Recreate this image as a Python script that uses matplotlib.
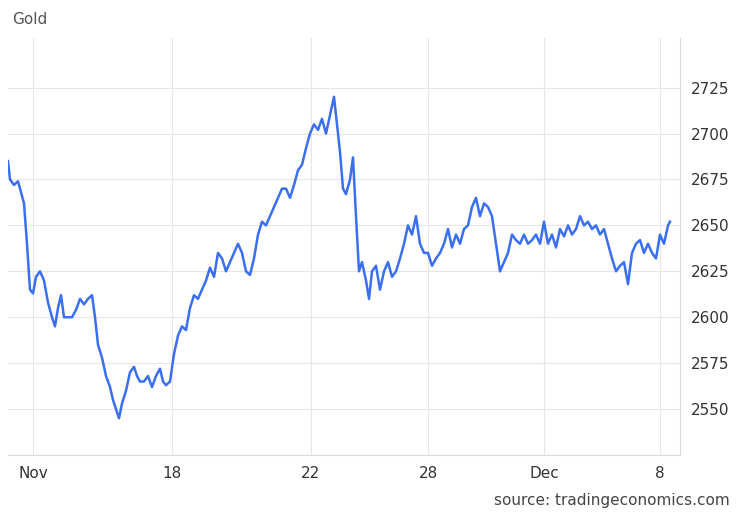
import matplotlib
matplotlib.use("Agg")
import matplotlib.pyplot as plt

# x positions are on the chart's own trading-time scale
pos = [8, 10, 14, 18, 20, 24, 27, 30, 33, 36, 40, 44, 48, 52, 55, 58, 61, 64, 68, 72,
       76, 80, 84, 88, 92, 95, 98, 102, 106, 110, 113, 116, 119, 122, 126, 130, 134, 137, 140, 144,
       148, 152, 156, 160, 163, 166, 170, 174, 178, 182, 186, 190, 194, 198, 202, 206, 210, 214, 218, 222,
       226, 230, 234, 238, 242, 246, 250, 254, 258, 262, 266, 270, 274, 278, 282, 286, 290, 294, 298, 302,
       306, 310, 314, 318, 322, 326, 330, 334, 337, 340, 343, 346, 350, 353, 356, 359, 362, 366, 369, 372,
       376, 380, 384, 388, 392, 396, 400, 404, 408, 412, 416, 420, 424, 428, 432, 436, 440, 444, 448, 452,
       456, 460, 464, 468, 472, 476, 480, 484, 488, 492, 496, 500, 504, 508, 512, 516, 520, 524, 528, 532,
       536, 540, 544, 548, 552, 556, 560, 564, 568, 572, 576, 580, 584, 588, 592, 596, 600, 604, 608, 612,
       616, 620, 624, 628, 632, 636, 640, 644, 648, 652, 656, 660, 664, 668, 670]
price = [2685, 2675, 2672, 2674, 2670, 2662, 2640, 2615, 2613, 2622, 2625, 2620, 2608, 2600, 2595, 2605, 2612, 2600, 2600, 2600,
         2604, 2610, 2607, 2610, 2612, 2600, 2585, 2578, 2568, 2562, 2555, 2550, 2545, 2553, 2560, 2570, 2573, 2568, 2565, 2565,
         2568, 2562, 2568, 2572, 2565, 2563, 2565, 2580, 2590, 2595, 2593, 2605, 2612, 2610, 2615, 2620, 2627, 2622, 2635, 2632,
         2625, 2630, 2635, 2640, 2635, 2625, 2623, 2632, 2645, 2652, 2650, 2655, 2660, 2665, 2670, 2670, 2665, 2672, 2680, 2683,
         2692, 2700, 2705, 2702, 2708, 2700, 2710, 2720, 2705, 2690, 2670, 2667, 2675, 2687, 2655, 2625, 2630, 2620, 2610, 2625,
         2628, 2615, 2625, 2630, 2622, 2625, 2632, 2640, 2650, 2645, 2655, 2640, 2635, 2635, 2628, 2632, 2635, 2640, 2648, 2638,
         2645, 2640, 2648, 2650, 2660, 2665, 2655, 2662, 2660, 2655, 2640, 2625, 2630, 2635, 2645, 2642, 2640, 2645, 2640, 2642,
         2645, 2640, 2652, 2640, 2645, 2638, 2648, 2644, 2650, 2645, 2648, 2655, 2650, 2652, 2648, 2650, 2645, 2648, 2640, 2632,
         2625, 2628, 2630, 2618, 2635, 2640, 2642, 2635, 2640, 2635, 2632, 2645, 2640, 2650, 2652]

tick_pos = [33, 172, 311, 428, 544, 660]
tick_labels = ["Nov", "18", "22", "28", "Dec", "8"]
y_ticks = [2550, 2575, 2600, 2625, 2650, 2675, 2700, 2725]

fig = plt.figure(figsize=(7.4, 5.13), dpi=100)
ax = fig.add_axes([8 / 740, 58 / 513, 672 / 740, 417 / 513])
ax.plot(pos, price, color="#3a6ff2", linewidth=1.8)

ax.set_xlim(8, 680)
ax.set_ylim(2525, 2752)
ax.set_xticks(tick_pos)
ax.set_xticklabels(tick_labels)
ax.set_yticks(y_ticks)
ax.yaxis.tick_right()
ax.tick_params(axis="both", length=0, labelsize=11, colors="#333333", pad=8)
ax.grid(True, color="#e6e6e6", linewidth=0.8)
for side in ["top", "left"]:
    ax.spines[side].set_visible(False)
for side in ["bottom", "right"]:
    ax.spines[side].set_color("#d9d9d9")

fig.text(12 / 740, 1 - 20 / 513, "Gold", fontsize=11, color="#555555", va="center")
fig.text(730 / 740, 1 - 500 / 513, "source: tradingeconomics.com", fontsize=11,
         color="#444444", ha="right", va="center")

fig.savefig("out.png", dpi=100, facecolor="white")
